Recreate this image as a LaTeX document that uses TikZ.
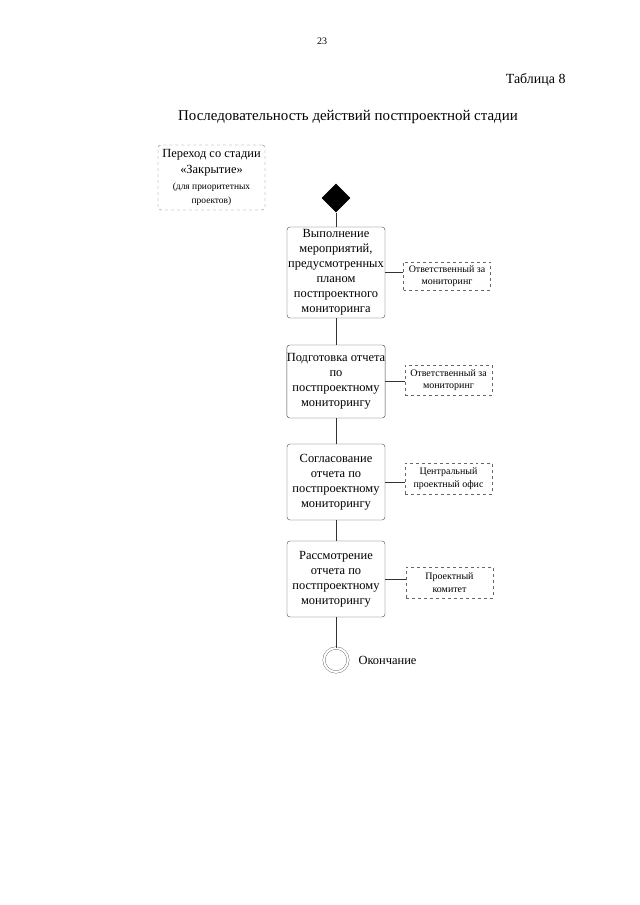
\documentclass[tikz,border=0pt]{standalone}
\usepackage{fontspec}
\setmainfont{Liberation Serif}
\usetikzlibrary{shapes.geometric}

\begin{document}
\begin{tikzpicture}[x=1bp,y=-1bp,
    act/.style={draw=black!75, rounded corners=3bp, align=center, inner sep=0pt,
      minimum width=98bp, font=\fontsize{12.5}{15}\selectfont},
    role/.style={draw=black!60, dashed, align=center, inner sep=0pt,
      minimum width=87bp, minimum height=30bp, font=\fontsize{10}{12.5}\selectfont},
    link/.style={draw=black!80, line width=0.6bp}]
    \useasboundingbox (0,0) rectangle (640,905);

    \node (num) at (322,41) {\fontsize{10}{12}\selectfont 23};
    \node[anchor=east] (tab) at (569,80) {\fontsize{14}{17}\selectfont Таблица 8};
    \node (title) at (348,117) {\fontsize{15}{18}\selectfont Последовательность действий постпроектной стадии};

    \node[draw=black!55, dashed, rounded corners=3bp, align=center, inner sep=0pt,
      minimum width=107bp, minimum height=65bp, font=\fontsize{12.5}{16}\selectfont] (from) at (211.5,177.5)
      {Переход со стадии\\
       «Закрытие»\\
       {\fontsize{9.5}{16}\selectfont (для приоритетных}\\[-1bp]
       {\fontsize{9.5}{16}\selectfont проектов)}};

    \node[diamond, fill=black, inner sep=0pt, minimum width=29bp, minimum height=29bp] (d) at (336,198) {};

    \node[act, minimum height=91bp] (b1) at (336,272.5)
      {Выполнение\\мероприятий,\\предусмотренных\\планом\\постпроектного\\мониторинга};
    \node[act, minimum height=73bp] (b2) at (336,381.5)
      {Подготовка отчета\\по\\постпроектному\\мониторингу};
    \node[act, minimum height=76bp] (b3) at (336,482)
      {Согласование\\отчета по\\постпроектному\\мониторингу};
    \node[act, minimum height=76bp] (b4) at (336,579)
      {Рассмотрение\\отчета по\\постпроектному\\мониторингу};

    \node[role, minimum height=28bp] (r1) at (447,276) {Ответственный за\\мониторинг};
    \node[role] (r2) at (448.5,380) {Ответственный за\\мониторинг};
    \node[role, minimum height=31bp] (r3) at (448.5,478.5) {Центральный\\проектный офис};
    \node[role, minimum height=31bp] (r4) at (449.5,582.5) {Проектный\\комитет};

    \node[circle, draw=black!60, double, double distance=2bp, minimum size=24bp] (end) at (336,660) {};
    \node[anchor=west] (endl) at (355,660) {\fontsize{12.5}{15}\selectfont Окончание};

    \path[link] (d) edge (b1);
    \path[link] (b1) edge (b2);
    \path[link] (b2) edge (b3);
    \path[link] (b3) edge (b4);
    \path[link] (b4) edge (end);

    \foreach \n in {1,...,4}
    {
      \path[link] (b\n.east) edge (r\n.west |- b\n.east);
    };
  \end{tikzpicture}
\end{document}
